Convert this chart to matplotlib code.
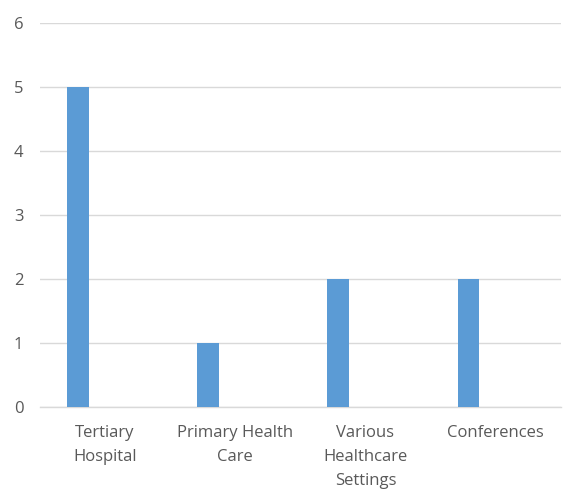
import numpy as np
import matplotlib.pyplot as plt

# Settings where the respondents work
categories = ["Tertiary\nHospital", "Primary Health\nCare", "Various\nHealthcare\nSettings", "Conferences"]
counts = [5, 1, 2, 2]
y_ticks = [0, 1, 2, 3, 4, 5, 6]

bar_color = "#5b9bd5"
grid_color = "#d9d9d9"
text_color = "#595959"

plt.rcParams['font.family'] = ['Open Sans', 'DejaVu Sans']

fig = plt.figure(figsize=(5.66, 4.91), dpi=100)
ax = fig.add_axes([0.0707, 0.171, 0.92, 0.783])

x = np.arange(len(categories))
# bars sit left of centre, like a clustered column chart with an empty second series
ax.bar(x - 0.21, counts, width=0.165, color=bar_color, zorder=3)

ax.set_xlim(-0.5, len(categories) - 0.5)
ax.set_ylim(0, 6)
ax.set_yticks(y_ticks)
ax.set_xticks(x)
ax.set_xticklabels(categories, linespacing=1.65)

ax.yaxis.grid(True, color=grid_color, linewidth=1)
for s in ["top", "right", "left"]:
    ax.spines[s].set_visible(False)
ax.spines["bottom"].set_color(grid_color)
ax.spines["bottom"].set_linewidth(1)

ax.tick_params(axis="both", length=0, colors=text_color, labelsize=12)
ax.tick_params(axis="y", pad=12)
ax.tick_params(axis="x", pad=13)

fig.savefig("out.png", dpi=100)
